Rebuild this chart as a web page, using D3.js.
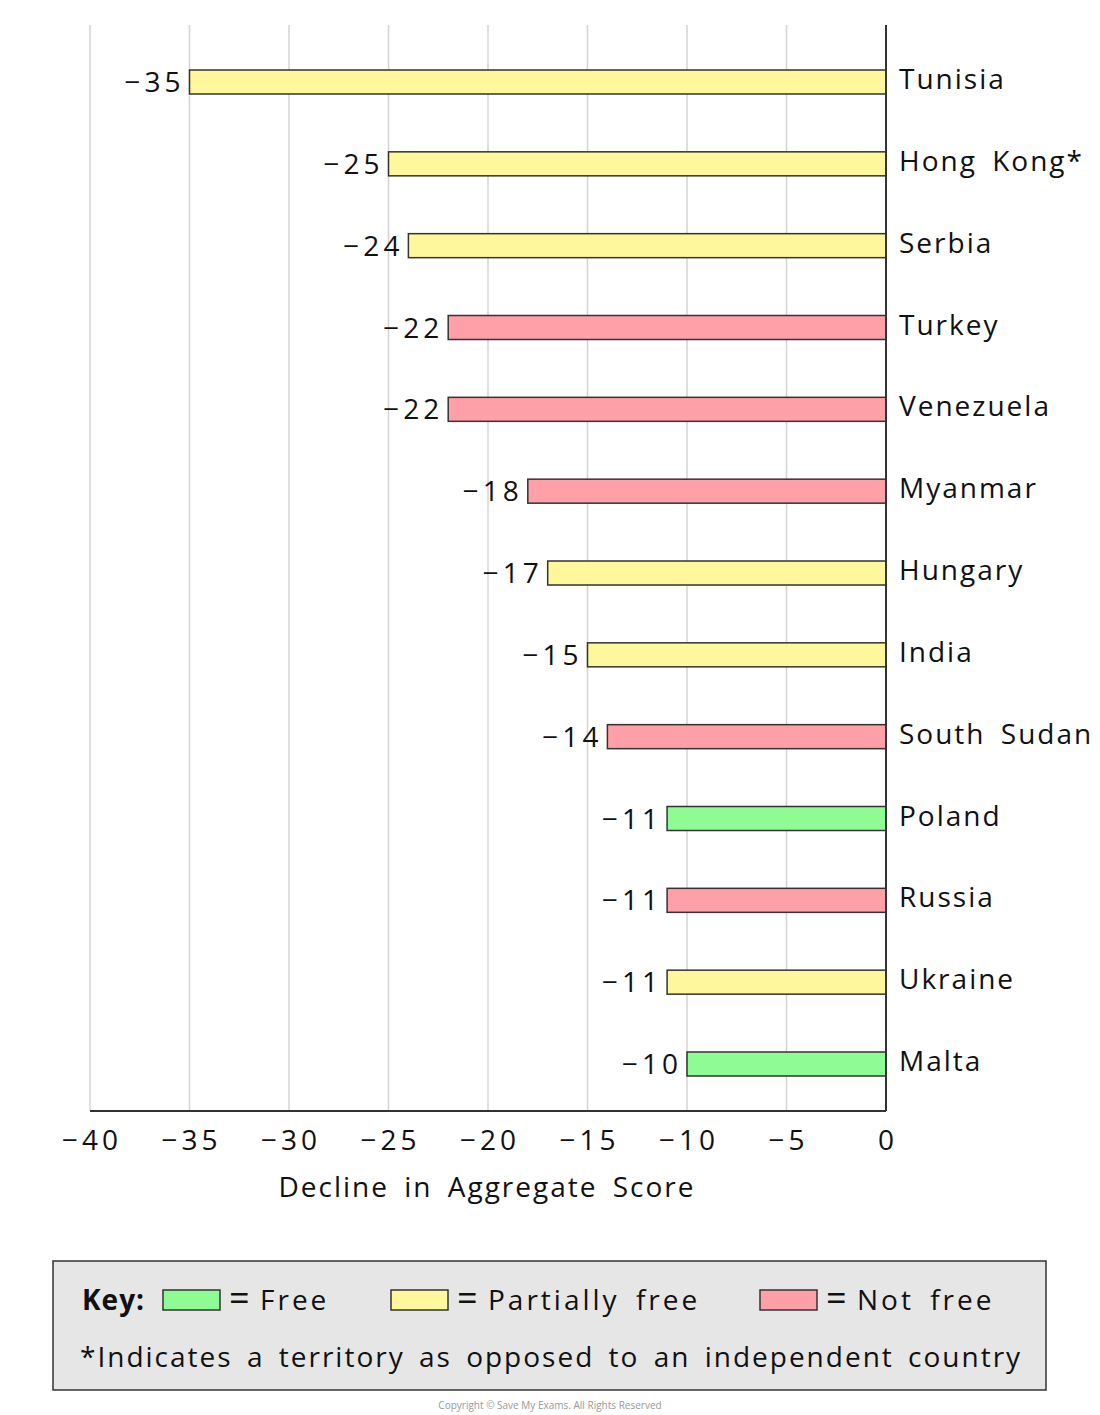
<!DOCTYPE html>
<html>
<head>
<meta charset="utf-8">
<script src="https://cdn.jsdelivr.net/npm/d3@7"></script>
<style>
  body { margin: 0; background: #fff; }
  text { font-family: "Open Sans", "DejaVu Sans", sans-serif; fill: #111; letter-spacing: 2px; word-spacing: 6px; }
  .num { letter-spacing: 4px; }
</style>
</head>
<body>
<div id="chart"></div>
<script>
// data
var countries = ["Tunisia", "Hong Kong*", "Serbia", "Turkey", "Venezuela", "Myanmar", "Hungary",
  "India", "South Sudan", "Poland", "Russia", "Ukraine", "Malta"];
var declines = [-35, -25, -24, -22, -22, -18, -17, -15, -14, -11, -11, -11, -10];
var freedom = ["partly", "partly", "partly", "not", "not", "not", "partly",
  "partly", "not", "free", "not", "partly", "free"];
var xTicks = [-40, -35, -30, -25, -20, -15, -10, -5, 0];
var keyLabels = ["Free", "Partially free", "Not free"];
var keyFreedom = ["free", "partly", "not"];

var colors = {free: "#8ffb95", partly: "#fff79b", not: "#ffa0a8"};

var W = 1100, H = 1415;
var svg = d3.select("#chart").append("svg")
  .attr("width", W)
  .attr("height", H);

var x = d3.scaleLinear().domain([-40, 0]).range([90, 886]);
var y = d3.scalePoint().domain(countries).range([82, 1064]);
var plotTop = 25, plotBottom = 1111, barH = 24;

function minus(d) { return d < 0 ? "\u2212" + Math.abs(d) : d; }

// grid lines
svg.append("g").selectAll("line")
  .data(xTicks.filter(function (d) { return d !== 0; }))
  .enter().append("line")
  .attr("x1", function (d) { return x(d); })
  .attr("x2", function (d) { return x(d); })
  .attr("y1", plotTop)
  .attr("y2", plotBottom)
  .style("stroke", "#d4d4d4")
  .style("stroke-width", 1.5);

// bars
svg.append("g").selectAll("rect")
  .data(declines)
  .enter().append("rect")
  .attr("x", function (d) { return x(d); })
  .attr("y", function (d, i) { return y(countries[i]) - barH / 2; })
  .attr("width", function (d) { return x(0) - x(d); })
  .attr("height", barH)
  .style("fill", function (d, i) { return colors[freedom[i]]; })
  .style("stroke", "#333")
  .style("stroke-width", 1.5);

// value labels
svg.append("g").selectAll("text")
  .data(declines)
  .enter().append("text")
  .attr("class", "num")
  .attr("x", function (d) { return x(d) - 5; })
  .attr("y", function (d, i) { return y(countries[i]); })
  .attr("dy", "0.36em")
  .attr("text-anchor", "end")
  .style("font-size", "28px")
  .text(minus);

// country labels
svg.append("g").selectAll("text")
  .data(countries)
  .enter().append("text")
  .attr("x", 899)
  .attr("y", function (d) { return y(d) - 3; })
  .attr("dy", "0.36em")
  .style("font-size", "28px")
  .text(function (d) { return d; });

// axes lines
svg.append("line")
  .attr("x1", x(0)).attr("x2", x(0))
  .attr("y1", plotTop).attr("y2", plotBottom)
  .style("stroke", "#333").style("stroke-width", 2);
svg.append("line")
  .attr("x1", x(-40)).attr("x2", x(0))
  .attr("y1", plotBottom).attr("y2", plotBottom)
  .style("stroke", "#333").style("stroke-width", 2);

// tick labels
svg.append("g").selectAll("text")
  .data(xTicks)
  .enter().append("text")
  .attr("class", "num")
  .attr("x", function (d) { return x(d) + 2; })
  .attr("y", 1150)
  .attr("text-anchor", "middle")
  .style("font-size", "28px")
  .text(minus);

svg.append("text")
  .attr("x", 487)
  .attr("y", 1197)
  .attr("text-anchor", "middle")
  .style("font-size", "28px")
  .text("Decline in Aggregate Score");

// key box
var key = svg.append("g");
key.append("rect")
  .attr("x", 53).attr("y", 1261)
  .attr("width", 993).attr("height", 129)
  .style("fill", "#e6e6e6")
  .style("stroke", "#333")
  .style("stroke-width", 1.5);
key.append("text")
  .attr("x", 82).attr("y", 1310)
  .style("font-size", "28px")
  .style("font-weight", "bold")
  .style("letter-spacing", "1px")
  .text("Key:");

var keyX = [163, 391, 760];
keyFreedom.forEach(function (s, i) {
  key.append("rect")
    .attr("x", keyX[i]).attr("y", 1290)
    .attr("width", 57).attr("height", 20)
    .style("fill", colors[s])
    .style("stroke", "#333")
    .style("stroke-width", 1.5);
  key.append("text")
    .attr("x", keyX[i] + 66).attr("y", 1311)
    .style("font-size", "36px")
    .style("letter-spacing", "0px")
    .text("=");
  key.append("text")
    .attr("x", keyX[i] + 97).attr("y", 1310)
    .style("font-size", "28px")
    .style("letter-spacing", "3px")
    .style("word-spacing", "6px")
    .text(keyLabels[i]);
});

key.append("text")
  .attr("x", 80).attr("y", 1367)
  .style("font-size", "28px")
  .style("word-spacing", "5px")
  .text("*Indicates a territory as opposed to an independent country");

svg.append("text")
  .attr("x", 550).attr("y", 1409)
  .attr("text-anchor", "middle")
  .style("font-size", "10px")
  .style("fill", "#999")
  .style("letter-spacing", "0px")
  .style("word-spacing", "0px")
  .text("Copyright \u00a9 Save My Exams. All Rights Reserved");
</script>
</body>
</html>
